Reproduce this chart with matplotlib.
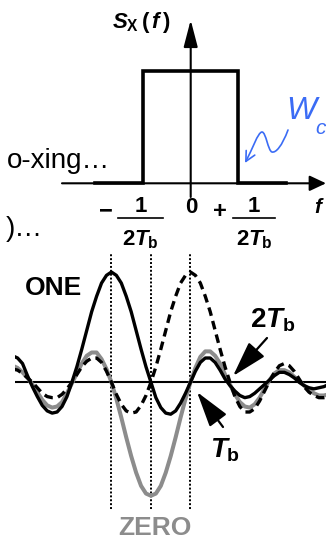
import numpy as np
import matplotlib
matplotlib.use('Agg')
import matplotlib.pyplot as plt
import matplotlib.transforms as mtransforms
from matplotlib.patches import FancyArrowPatch
from matplotlib.path import Path
from matplotlib.lines import Line2D

plt.rcParams['font.family'] = ['Liberation Sans', 'DejaVu Sans']
plt.rcParams['mathtext.fontset'] = 'custom'
plt.rcParams['mathtext.rm'] = 'Liberation Sans:bold'
plt.rcParams['mathtext.bf'] = 'Liberation Sans:bold'
plt.rcParams['mathtext.it'] = 'Liberation Sans:bold:italic'

# spectrum S_X(f), f in units of 1/Tb
freq_pts = [-1.0, -0.5, -0.5, 0.5, 0.5, 1.0]
psd_pts = [0, 0, 1, 1, 0, 0]

# pulses, time in units of Tb (step Tb/8, -2.5 .. 5.5)
t = np.arange(-2.5, 5.5 + 0.0625, 0.125)
one_pulse = [0.24, 0.22, 0.17, 0.06, -0.04, -0.13, -0.21, -0.26,
             -0.28, -0.27, -0.22, -0.13, 0.00, 0.14, 0.30, 0.47,
             0.64, 0.78, 0.90, 0.97, 1.00, 0.97, 0.90, 0.78,
             0.64, 0.47, 0.30, 0.14, 0.00, -0.14, -0.23, -0.28,
             -0.29, -0.26, -0.19, -0.10, 0.00, 0.10, 0.18, 0.22,
             0.22, 0.18, 0.11, 0.03, -0.03, -0.08, -0.12, -0.14,
             -0.13, -0.10, -0.06, -0.02, 0.02, 0.06, 0.09, 0.09,
             0.07, 0.04, 0.00, -0.03, -0.05, -0.06, -0.05, -0.04,
             -0.02]
zero_pulse = [0.15, 0.13, 0.09, 0.04, -0.02, -0.09, -0.16, -0.21,
              -0.23, -0.22, -0.18, -0.10, -0.01, 0.08, 0.17, 0.24,
              0.27, 0.27, 0.21, 0.12, 0.00, -0.15, -0.32, -0.50,
              -0.67, -0.82, -0.94, -1.01, -1.03, -1.01, -0.94, -0.82,
              -0.67, -0.50, -0.32, -0.15, 0.00, 0.13, 0.23, 0.28,
              0.28, 0.24, 0.17, 0.07, -0.02, -0.11, -0.18, -0.22,
              -0.23, -0.20, -0.14, -0.06, 0.02, 0.08, 0.11, 0.11,
              0.09, 0.05, 0.01, -0.03, -0.07, -0.10, -0.12, -0.12,
              -0.11]
late_pulse = [0.12, 0.11, 0.08, 0.04, 0.00, -0.05, -0.10, -0.13,
              -0.14, -0.14, -0.11, -0.06, 0.00, 0.07, 0.14, 0.19,
              0.22, 0.22, 0.18, 0.10, 0.00, -0.11, -0.20, -0.26,
              -0.28, -0.27, -0.21, -0.12, 0.00, 0.14, 0.30, 0.47,
              0.64, 0.78, 0.90, 0.97, 1.00, 0.97, 0.90, 0.78,
              0.64, 0.47, 0.30, 0.14, 0.00, -0.13, -0.22, -0.27,
              -0.27, -0.24, -0.17, -0.08, 0.01, 0.09, 0.15, 0.17,
              0.15, 0.10, 0.03, -0.04, -0.09, -0.12, -0.14, -0.14,
              -0.13]
bit_times = [0, 1, 2]

W, H = 326, 540
fig = plt.figure(figsize=(W / 100, H / 100), dpi=100)
pix = mtransforms.Affine2D().scale(1, -1).translate(0, H)  # pixel coords, y down


def box(x0, y0, x1, y1):
    return [x0 / W, 1 - y1 / H, (x1 - x0) / W, (y1 - y0) / H]


def arrow(p0, p1, style, lw=1.5, color='k', **kw):
    a = FancyArrowPatch(p0, p1, arrowstyle=style, mutation_scale=10, lw=lw,
                        color=color, transform=pix, shrinkA=0, shrinkB=0, **kw)
    fig.add_artist(a)


# ---- top: spectrum ----
ax1 = fig.add_axes(box(95, 71, 286, 183.3))
ax1.set_xlim(-1, 1)
ax1.set_ylim(0, 1)
ax1.axis('off')
ax1.plot(freq_pts, psd_pts, color='k', lw=2.6, clip_on=False, zorder=3,
         solid_joinstyle='miter')

arrow((62, 183.3), (326, 183.3), '-|>,head_length=1.0,head_width=0.47', lw=1.5)
arrow((190.7, 197), (190.7, 20), '-|>,head_length=1.65,head_width=0.43', lw=1.5)

fig.text(112, 28, r'$S_{\mathrm{X}}\,(\,f\,)$', transform=pix, fontsize=16, va='baseline')
fig.text(314, 213, r'$f$', transform=pix, fontsize=15, va='baseline')

# tick labels -1/2Tb, 0, +1/2Tb
fig.text(106, 217, '\u2212', transform=pix, fontsize=17, fontweight='bold',
         ha='center', va='baseline')
fig.text(220, 218, '+', transform=pix, fontsize=17, fontweight='bold',
         ha='center', va='baseline')
fig.text(191, 213, '0', transform=pix, fontsize=16, fontweight='bold',
         ha='center', va='baseline')
for xc, x0, x1 in [(140.5, 118, 163), (254, 233, 275)]:
    fig.text(xc, 212, '1', transform=pix, fontsize=16, fontweight='bold',
             ha='center', va='baseline')
    fig.add_artist(Line2D([x0, x1], [218, 218], color='k', lw=1.2, transform=pix))
    fig.text(xc, 245, r'$2T_\mathrm{b}$', transform=pix, fontsize=16,
             ha='center', va='baseline')

# W_c note
blue = '#3b6cf5'
fig.text(286, 119, 'W', transform=pix, fontsize=23, style='italic', color=blue,
         va='baseline')
fig.text(315, 134, 'c', transform=pix, fontsize=15, style='italic', color=blue,
         va='baseline')
squig = Path([(288, 130), (282, 146), (276, 153), (272, 152),
              (268, 151), (266, 132), (262, 132),
              (258, 132), (252, 150), (245, 163)],
             [Path.MOVETO] + [Path.CURVE4] * 9)
fig.add_artist(FancyArrowPatch(path=squig, arrowstyle='->,head_length=0.7,head_width=0.35',
                               mutation_scale=10, lw=1.2, color=blue, transform=pix))

# cut-off slide text on the left
fig.text(110, 168, 'o-xing\u2026', transform=pix, fontsize=20, ha='right', va='baseline')
fig.text(43, 236, ')\u2026', transform=pix, fontsize=20, ha='right', va='baseline')

# ---- bottom: pulses ----
ax2 = fig.add_axes(box(15, 250, 326, 520))
ax2.set_xlim(-2.44, 5.43)
ax2.set_ylim(-1.25, 1.2)
ax2.axis('off')
ax2.vlines(bit_times, -1.15, 1.17, color='k', lw=1.4, linestyles=(0, (1, 1)))
ax2.axhline(0, color='k', lw=1.5)
ax2.plot(t, zero_pulse, color='#8c8c8c', lw=2.9)
ax2.plot(t, late_pulse, color='k', lw=2.4, dashes=(2.6, 1.6), dash_capstyle='butt')
ax2.plot(t, one_pulse, color='k', lw=2.4)

fig.text(53, 295, 'ONE', transform=pix, fontsize=19, fontweight='bold',
         ha='center', va='baseline')
fig.text(155, 535, 'ZERO', transform=pix, fontsize=19, fontweight='bold',
         color='#8c8c8c', ha='center', va='baseline')
fig.text(250, 328, r'$2T_\mathrm{b}$', transform=pix, fontsize=20, va='baseline')
fig.text(210, 458, r'$T_\mathrm{b}$', transform=pix, fontsize=20, va='baseline')

arrow((267, 338), (233, 376), '-|>,head_length=2.2,head_width=0.65', lw=1.6)
arrow((223, 427), (197, 392), '-|>,head_length=2.2,head_width=0.65', lw=1.6)

fig.savefig('out.png', dpi=100)
